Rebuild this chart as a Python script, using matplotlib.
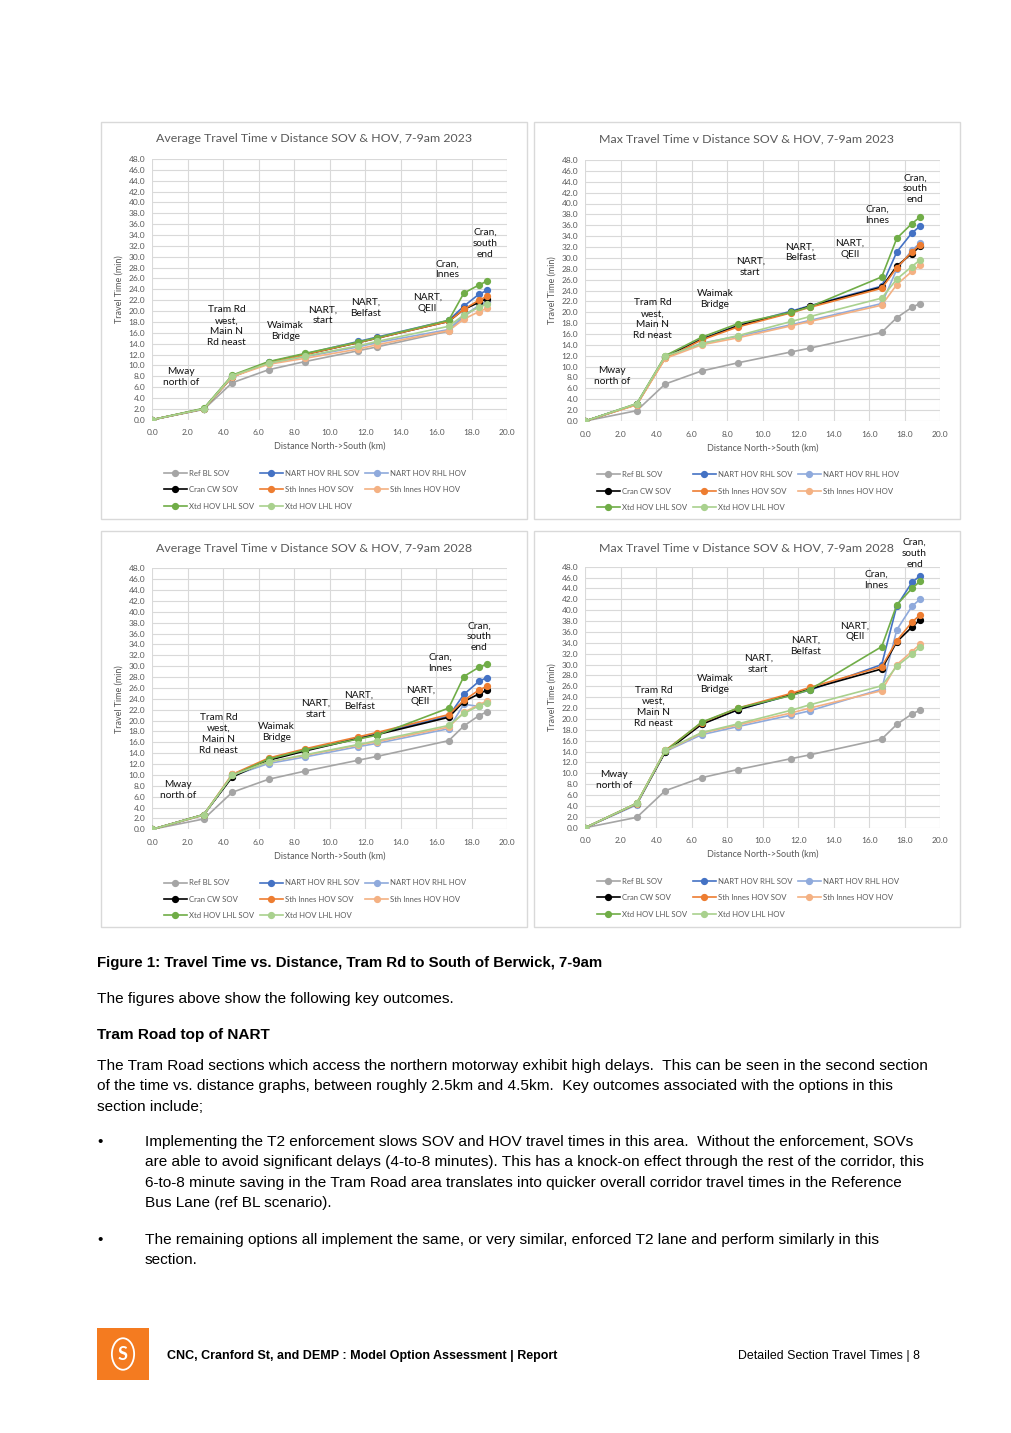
import matplotlib
matplotlib.use('Agg')
import matplotlib.pyplot as plt
from matplotlib.patches import Rectangle, Circle

W, H = 1012, 1433

# distance of each timing point along the corridor (km)
dist = [0, 2.9, 4.5, 6.55, 8.6, 11.6, 12.65, 16.7, 17.55, 18.4, 18.85]

series_names = ['Ref BL SOV', 'NART HOV RHL SOV', 'NART HOV RHL HOV',
                'Cran CW SOV', 'Sth Innes HOV SOV', 'Sth Innes HOV HOV',
                'Xtd HOV LHL SOV', 'Xtd HOV LHL HOV']
series_colors = ['#a5a5a5', '#4472c4', '#8faadc',
                 '#000000', '#ed7d31', '#f4b183',
                 '#70ad47', '#a9d18e']

ref_bl_sov = [0, 1.9, 6.8, 9.2, 10.7, 12.7, 13.4, 16.3, 19.0, 20.9, 21.6]

# average 2023
avg23_nart_sov = [0, 2.0, 8.0, 10.6, 12.1, 14.4, 15.2, 18.3, 20.9, 23.1, 23.8]
avg23_nart_hov = [0, 2.0, 8.0, 10.4, 11.6, 13.4, 14.2, 16.6, 19.2, 21.0, 21.8]
avg23_cran_sov = [0, 2.0, 7.9, 10.5, 12.0, 14.2, 15.0, 18.1, 20.3, 21.6, 22.3]
avg23_sth_sov = [0, 2.0, 7.9, 10.5, 12.0, 14.2, 15.0, 18.1, 20.3, 22.0, 22.7]
avg23_sth_hov = [0, 2.0, 7.9, 10.2, 11.3, 13.0, 13.8, 16.4, 18.5, 19.9, 20.5]
avg23_xtd_sov = [0, 2.1, 8.2, 10.7, 12.2, 14.3, 15.1, 18.3, 23.3, 24.8, 25.5]
avg23_xtd_hov = [0, 2.0, 8.1, 10.4, 11.7, 13.6, 14.4, 17.2, 19.3, 20.7, 21.3]

# max 2023
max23_nart_sov = [0, 3.1, 11.8, 15.1, 17.6, 20.2, 21.2, 24.8, 31.1, 34.6, 35.8]
max23_nart_hov = [0, 3.1, 11.8, 14.3, 15.6, 17.7, 18.5, 21.6, 27.9, 31.4, 32.7]
max23_cran_sov = [0, 3.1, 11.7, 15.0, 17.5, 20.0, 21.1, 24.6, 28.5, 30.8, 32.1]
max23_sth_sov = [0, 3.0, 11.5, 14.9, 17.3, 19.9, 20.9, 24.4, 28.2, 31.1, 32.4]
max23_sth_hov = [0, 3.0, 11.5, 14.0, 15.3, 17.5, 18.3, 21.3, 25.1, 27.5, 28.6]
max23_xtd_sov = [0, 3.2, 12.0, 15.4, 17.9, 20.0, 21.0, 26.5, 33.6, 36.3, 37.5]
max23_xtd_hov = [0, 3.2, 11.9, 14.2, 15.7, 18.3, 19.2, 22.6, 26.1, 28.4, 29.6]

# average 2028
avg28_nart_sov = [0, 2.7, 9.8, 12.8, 14.5, 16.8, 17.6, 20.8, 24.8, 27.2, 27.9]
avg28_nart_hov = [0, 2.6, 9.8, 12.1, 13.3, 15.2, 15.8, 18.5, 23.0, 22.6, 23.5]
avg28_cran_sov = [0, 2.7, 9.6, 12.7, 14.4, 16.7, 17.4, 20.6, 23.5, 24.9, 25.6]
avg28_sth_sov = [0, 2.7, 10.1, 13.1, 14.8, 17.0, 17.8, 21.1, 23.7, 25.6, 26.3]
avg28_sth_hov = [0, 2.6, 10.1, 12.4, 13.6, 15.5, 16.1, 18.8, 21.5, 22.9, 23.6]
avg28_xtd_sov = [0, 2.7, 9.9, 12.9, 14.6, 16.6, 17.3, 22.3, 28.1, 29.8, 30.4]
avg28_xtd_hov = [0, 2.7, 9.9, 12.4, 13.7, 15.6, 16.3, 19.1, 21.3, 22.7, 23.3]

# max 2028
max28_nart_sov = [0, 4.4, 14.0, 19.1, 21.7, 24.4, 25.3, 30.0, 40.8, 45.1, 46.3]
max28_nart_hov = [0, 4.2, 14.0, 17.1, 18.6, 20.7, 21.5, 25.5, 36.4, 40.7, 42.0]
max28_cran_sov = [0, 4.4, 13.9, 19.0, 21.7, 24.5, 25.5, 29.2, 34.2, 36.9, 38.2]
max28_sth_sov = [0, 4.5, 14.2, 19.3, 22.0, 24.7, 25.8, 29.6, 34.4, 37.8, 39.1]
max28_sth_hov = [0, 4.4, 14.1, 17.4, 18.9, 21.1, 22.0, 25.2, 30.0, 32.4, 33.7]
max28_xtd_sov = [0, 4.5, 14.1, 19.4, 22.0, 24.3, 25.4, 33.3, 41.0, 44.0, 45.3]
max28_xtd_hov = [0, 4.5, 14.2, 17.5, 19.1, 21.6, 22.6, 26.1, 29.7, 31.9, 33.2]

avg23 = [ref_bl_sov, avg23_nart_sov, avg23_nart_hov, avg23_cran_sov,
         avg23_sth_sov, avg23_sth_hov, avg23_xtd_sov, avg23_xtd_hov]
max23 = [ref_bl_sov, max23_nart_sov, max23_nart_hov, max23_cran_sov,
         max23_sth_sov, max23_sth_hov, max23_xtd_sov, max23_xtd_hov]
avg28 = [ref_bl_sov, avg28_nart_sov, avg28_nart_hov, avg28_cran_sov,
         avg28_sth_sov, avg28_sth_hov, avg28_xtd_sov, avg28_xtd_hov]
max28 = [ref_bl_sov, max28_nart_sov, max28_nart_hov, max28_cran_sov,
         max28_sth_sov, max28_sth_hov, max28_xtd_sov, max28_xtd_hov]

label_texts = ['Mway\nnorth of', 'Tram Rd\nwest,\nMain N\nRd neast', 'Waimak\nBridge',
               'NART,\nstart', 'NART,\nBelfast', 'NART,\nQEII', 'Cran,\nInnes',
               'Cran,\nsouth\nend']
# (x, y) of each section label, per chart
labels_avg23 = [(1.6, 7.9), (4.2, 17.2), (7.5, 16.3), (9.6, 19.2), (12.0, 20.6),
                (15.5, 21.5), (16.6, 27.7), (18.75, 32.5)]
labels_max23 = [(1.5, 8.3), (3.8, 18.7), (7.3, 22.4), (9.3, 28.3), (12.1, 31.0),
                (14.9, 31.7), (16.45, 37.9), (18.6, 42.7)]
labels_avg28 = [(1.45, 7.2), (3.75, 17.5), (7.0, 17.9), (9.2, 22.2), (11.65, 23.6),
                (15.1, 24.5), (16.2, 30.6), (18.4, 35.4)]
labels_max28 = [(1.6, 8.8), (3.85, 22.2), (7.3, 26.5), (9.75, 30.1), (12.4, 33.4),
                (15.2, 36.1), (16.4, 45.6), (18.55, 50.4)]

CHART_FONT = ['Lato', 'DejaVu Sans']
BODY_FONT = ['Liberation Sans', 'DejaVu Sans']
GRID = '#d9d9d9'
GREY_TXT = '#595959'
BODY_SIZE = 11.05


def fx(x):
    return x / W


def fy(y):
    return 1 - y / H


def draw_chart(fig, box, plot, title, data, labels):
    # box / plot are pixel rectangles (left, top, right, bottom)
    l, t, r, b = box
    fig.patches.append(Rectangle((fx(l), fy(b)), fx(r - l), (b - t) / H,
                                 transform=fig.transFigure, fill=False,
                                 edgecolor=GRID, linewidth=1))
    pl, pt, pr, pb = plot
    ax = fig.add_axes([fx(pl), fy(pb), fx(pr - pl), (pb - pt) / H])
    ax.set_xlim(0, 20)
    ax.set_ylim(0, 48)
    ax.set_xticks([i * 2.0 for i in range(11)])
    ax.set_yticks([i * 2.0 for i in range(25)])
    ax.set_xticklabels(['%.1f' % v for v in ax.get_xticks()])
    ax.set_yticklabels(['%.1f' % v for v in ax.get_yticks()])
    ax.tick_params(length=0, labelsize=6, labelcolor=GREY_TXT)
    ax.tick_params(axis='x', pad=7)
    ax.tick_params(axis='y', pad=5)
    for lab in ax.get_xticklabels() + ax.get_yticklabels():
        lab.set_family(CHART_FONT)
    ax.grid(True, color=GRID, linewidth=0.8)
    ax.set_axisbelow(True)
    for s in ax.spines.values():
        s.set_visible(False)
    ax.set_xlabel('Distance North->South (km)', fontsize=6.5, color=GREY_TXT,
                  family=CHART_FONT, labelpad=4)
    ax.set_ylabel('Travel Time (min)', fontsize=6.5, color=GREY_TXT,
                  family=CHART_FONT, labelpad=4)

    handles = []
    for vals, name, col in zip(data, series_names, series_colors):
        h, = ax.plot(dist, vals, color=col, marker='o', markersize=4.2,
                     linewidth=1.2, label=name)
        handles.append(h)

    for txt, (x, y) in zip(label_texts, labels):
        ax.text(x, y, txt, ha='center', va='center', fontsize=7.3,
                family=CHART_FONT, color='#111111', linespacing=1.3,
                clip_on=False)

    fig.text(fx((l + r) / 2), fy(t + 17), title, ha='center', va='center',
             fontsize=8.9, color=GREY_TXT, family=CHART_FONT)

    order = [0, 3, 6, 1, 4, 7, 2, 5]
    leg = fig.legend([handles[i] for i in order],
                     [series_names[i] for i in order],
                     loc='center', bbox_to_anchor=(fx(l + 214), fy(pb + 70)),
                     ncol=3, frameon=False, handlelength=3.0,
                     columnspacing=0.7, handletextpad=0.25, labelspacing=1.2,
                     prop={'family': CHART_FONT, 'size': 5.6})
    for tx in leg.get_texts():
        tx.set_color(GREY_TXT)
    return ax


fig = plt.figure(figsize=(W / 100, H / 100), dpi=100)

draw_chart(fig, (101, 122, 527, 519), (152.3, 159, 507.3, 419.7),
           'Average Travel Time v Distance SOV & HOV, 7-9am 2023', avg23, labels_avg23)
draw_chart(fig, (534, 122, 960, 519), (585.3, 160, 940.3, 421),
           'Max Travel Time v Distance SOV & HOV, 7-9am 2023', max23, labels_max23)
draw_chart(fig, (101, 531, 527, 927), (152.3, 568.3, 507.3, 829.3),
           'Average Travel Time v Distance SOV & HOV, 7-9am 2028', avg28, labels_avg28)
draw_chart(fig, (534, 531, 960, 927), (585.3, 566.7, 940.3, 827.7),
           'Max Travel Time v Distance SOV & HOV, 7-9am 2028', max28, labels_max28)

# page text below the figures
fig.text(fx(97), fy(963), 'Figure 1: Travel Time vs. Distance, Tram Rd to South of Berwick, 7-9am',
         fontsize=10.8, weight='bold', family=BODY_FONT, va='center')
fig.text(fx(97), fy(999), 'The figures above show the following key outcomes.',
         fontsize=BODY_SIZE, family=BODY_FONT, va='center')
fig.text(fx(97), fy(1035), 'Tram Road top of NART',
         fontsize=BODY_SIZE, weight='bold', family=BODY_FONT, va='center')

para = ['The Tram Road sections which access the northern motorway exhibit high delays.  This can be seen in the second section',
        'of the time vs. distance graphs, between roughly 2.5km and 4.5km.  Key outcomes associated with the options in this',
        'section include;']
for i, line in enumerate(para):
    fig.text(fx(97), fy(1066 + i * 20.3), line, fontsize=BODY_SIZE, family=BODY_FONT, va='center')

bullet1 = ['Implementing the T2 enforcement slows SOV and HOV travel times in this area.  Without the enforcement, SOVs',
           'are able to avoid significant delays (4-to-8 minutes). This has a knock-on effect through the rest of the corridor, this',
           '6-to-8 minute saving in the Tram Road area translates into quicker overall corridor travel times in the Reference',
           'Bus Lane (ref BL scenario).']
bullet2 = ['The remaining options all implement the same, or very similar, enforced T2 lane and perform similarly in this',
           'section.']
fig.text(fx(97), fy(1142), '\u2022', fontsize=BODY_SIZE, family=BODY_FONT, va='center')
for i, line in enumerate(bullet1):
    fig.text(fx(145), fy(1142 + i * 20.3), line, fontsize=BODY_SIZE, family=BODY_FONT, va='center')
fig.text(fx(97), fy(1240), '\u2022', fontsize=BODY_SIZE, family=BODY_FONT, va='center')
for i, line in enumerate(bullet2):
    fig.text(fx(145), fy(1240 + i * 20.3), line, fontsize=BODY_SIZE, family=BODY_FONT, va='center')

# footer
fig.patches.append(Rectangle((fx(97), fy(1380)), fx(52), 52 / H, transform=fig.transFigure,
                             facecolor='#f47b20', edgecolor='none'))
fig.patches.append(Circle((fx(123), fy(1354)), 0.011, transform=fig.transFigure,
                          fill=False, edgecolor='white', linewidth=1.3))
fig.text(fx(123), fy(1354), 'S', color='white', fontsize=13, weight='bold',
         ha='center', va='center', family=CHART_FONT)
fig.text(fx(167), fy(1356), 'CNC, Cranford St, and DEMP : Model Option Assessment | Report',
         fontsize=9.0, weight='bold', family=BODY_FONT, va='center')
fig.text(fx(920), fy(1356), 'Detailed Section Travel Times | 8',
         fontsize=8.9, family=BODY_FONT, va='center', ha='right')

fig.savefig('out.png', dpi=100, facecolor='white')
